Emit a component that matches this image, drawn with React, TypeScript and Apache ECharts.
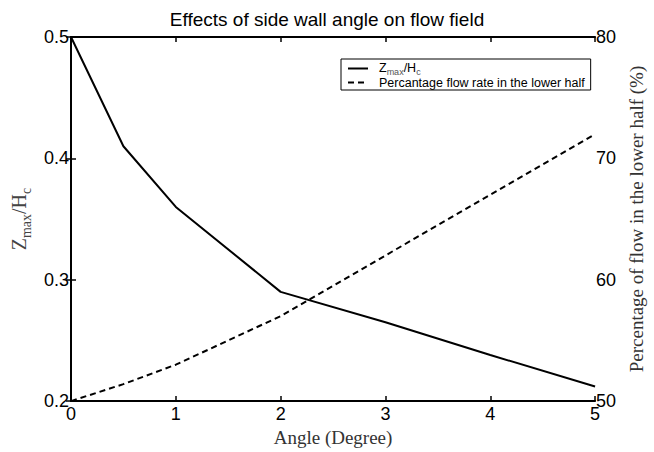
import React, { useEffect, useRef } from "react";
import * as echarts from "echarts";

// Side wall angle (degrees)
const angles = [0, 0.5, 1, 2, 3, 4, 5];
// Zmax/Hc ratio at each angle
const zRatio = [0.5, 0.41, 0.36, 0.29, 0.265, 0.238, 0.212];
// Percentage of flow in the lower half at each angle
const lowerFlow = [50, 51.4, 53, 57, 62, 67, 72];

const leftTicks = { min: 0.2, max: 0.5, interval: 0.1 };
const rightTicks = { min: 50, max: 80, interval: 10 };
const xTicks = { min: 0, max: 5, interval: 1 };

const SANS = "Arial, 'Liberation Sans', Helvetica, sans-serif";
const SERIF = "'Times New Roman', 'Liberation Serif', serif";

export default function App() {
  const ref = useRef<HTMLDivElement>(null);

  useEffect(() => {
    if (!ref.current) return;
    const chart = echarts.init(ref.current, null, { renderer: "svg" });

    const axisLine = { show: true, lineStyle: { color: "#000", width: 2 } };
    const tickIn = { show: true, inside: true, length: 5, lineStyle: { color: "#000", width: 1.5 } };

    chart.setOption({
      animation: false,
      backgroundColor: "#fff",
      color: ["#000", "#000"],
      title: {
        text: "Effects of side wall angle on flow field",
        left: "center",
        top: 5,
        textStyle: { fontFamily: SANS, fontSize: 19, fontWeight: "normal", color: "#000" },
      },
      legend: {
        orient: "vertical",
        left: 341,
        top: 59,
        backgroundColor: "#fff",
        borderColor: "#000",
        borderWidth: 1,
        borderRadius: 0,
        padding: [1, 6, 1, 6],
        itemWidth: 20,
        itemHeight: 10,
        itemGap: 0,
        itemStyle: { opacity: 0 },
        textStyle: {
          fontFamily: SANS,
          fontSize: 12.5,
          color: "#000",
          padding: [0, 0, 0, 6],
          rich: {
            n: { fontFamily: SANS, fontSize: 12.5, color: "#000", lineHeight: 15, verticalAlign: "top" },
            s: { fontFamily: SANS, fontSize: 9, color: "#555", lineHeight: 15, verticalAlign: "bottom", padding: [7, 0, 0, 0] },
          },
        },
        formatter: (name: string) =>
          name === "Zmax/Hc" ? "{n|Z}{s|max}{n|/H}{s|c}" : name,
        data: ["Zmax/Hc", "Percantage flow rate in the lower half"],
      },
      grid: { left: 71, right: 51, top: 37, bottom: 45, containLabel: false },
      xAxis: [
        {
          type: "value",
          position: "bottom",
          ...xTicks,
          name: "Angle (Degree)",
          nameLocation: "middle",
          nameGap: 24,
          nameTextStyle: { fontFamily: SERIF, fontSize: 19, color: "#333" },
          axisLine,
          axisTick: tickIn,
          splitLine: { show: false },
          axisLabel: { fontFamily: SANS, fontSize: 18, color: "#000", margin: 4 },
        },
        {
          type: "value",
          position: "top",
          ...xTicks,
          axisLine,
          axisTick: tickIn,
          splitLine: { show: false },
          axisLabel: { show: false },
        },
      ],
      yAxis: [
        {
          type: "value",
          position: "left",
          ...leftTicks,
          name: "{n|Z}{s|max}{n|/H}{s|c}",
          nameLocation: "middle",
          nameGap: 38,
          nameRotate: 90,
          nameTextStyle: {
            fontFamily: SERIF,
            color: "#444",
            rich: {
              n: { fontFamily: SERIF, fontSize: 20, color: "#444", lineHeight: 24, verticalAlign: "top" },
              s: { fontFamily: SERIF, fontSize: 14, color: "#444", lineHeight: 24, verticalAlign: "bottom", padding: [9, 0, 0, 0] },
            },
          },
          axisLine,
          axisTick: tickIn,
          splitLine: { show: false },
          axisLabel: {
            fontFamily: SANS,
            fontSize: 18,
            color: "#000",
            margin: 2,
            formatter: (v: number) => v.toFixed(1),
          },
        },
        {
          type: "value",
          position: "right",
          ...rightTicks,
          name: "Percentage of flow in the lower half (%)",
          nameLocation: "middle",
          nameGap: 30,
          nameRotate: 90,
          nameTextStyle: { fontFamily: SERIF, fontSize: 19, color: "#333" },
          axisLine,
          axisTick: tickIn,
          splitLine: { show: false },
          axisLabel: { fontFamily: SANS, fontSize: 18, color: "#000", margin: 1 },
        },
      ],
      series: [
        {
          name: "Zmax/Hc",
          type: "line",
          xAxisIndex: 0,
          yAxisIndex: 0,
          data: angles.map((a, i) => [a, zRatio[i]]),
          symbol: "none",
          itemStyle: { color: "#000" },
          lineStyle: { color: "#000", width: 2, type: "solid" },
        },
        {
          name: "Percantage flow rate in the lower half",
          type: "line",
          xAxisIndex: 0,
          yAxisIndex: 1,
          data: angles.map((a, i) => [a, lowerFlow[i]]),
          symbol: "none",
          itemStyle: { color: "#000" },
          lineStyle: { color: "#000", width: 2, type: [6, 4] },
        },
      ],
    });

    return () => chart.dispose();
  }, []);

  return <div ref={ref} style={{ width: 654, height: 452, position: "absolute", left: 0, top: 0 }} />;
}
